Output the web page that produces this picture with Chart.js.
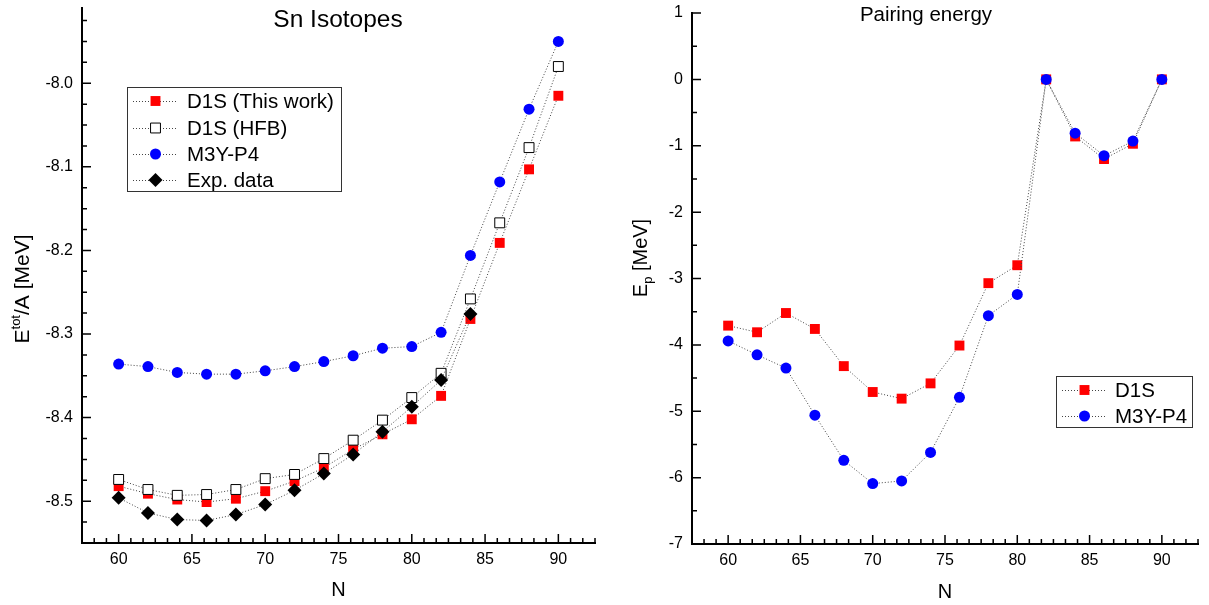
<!DOCTYPE html>
<html lang="en">
<head>
<meta charset="UTF-8">
<title>Sn isotopes</title>
<style>
  html, body { margin:0; padding:0; background:#fff; }
  #wrap { position:relative; width:1209px; height:605px; }
  #c1 { position:absolute; left:0; top:0; }
  #c2 { position:absolute; left:605px; top:0; }
</style>
</head>
<body>
<div id="wrap">
  <canvas id="c1" width="605" height="605"></canvas>
  <canvas id="c2" width="604" height="605"></canvas>
</div>
<script src="https://cdn.jsdelivr.net/npm/chart.js@4.4.0/dist/chart.umd.min.js"></script>
<script>
// neutron numbers
var N = [60, 62, 64, 66, 68, 70, 72, 74, 76, 78, 80, 82, 84, 86, 88, 90];
var N_exp = [60, 62, 64, 66, 68, 70, 72, 74, 76, 78, 80, 82, 84];

// E_tot/A [MeV]
var e_d1s = [-8.482, -8.491, -8.498, -8.501, -8.497, -8.488, -8.476, -8.460, -8.438, -8.420, -8.402, -8.374, -8.282, -8.191, -8.103, -8.015];
var e_hfb = [-8.474, -8.486, -8.493, -8.492, -8.486, -8.473, -8.468, -8.449, -8.427, -8.403, -8.376, -8.347, -8.258, -8.167, -8.077, -7.980];
var e_m3y = [-8.336, -8.339, -8.346, -8.348, -8.348, -8.344, -8.339, -8.333, -8.326, -8.317, -8.315, -8.298, -8.206, -8.118, -8.031, -7.950];
var e_exp = [-8.496, -8.514, -8.522, -8.523, -8.516, -8.504, -8.487, -8.467, -8.444, -8.417, -8.387, -8.355, -8.276];

// pairing energy [MeV]
var p_d1s = [-3.71, -3.81, -3.52, -3.76, -4.32, -4.71, -4.81, -4.58, -4.01, -3.07, -2.80, 0, -0.86, -1.20, -0.97, 0];
var p_m3y = [-3.94, -4.15, -4.35, -5.06, -5.74, -6.09, -6.05, -5.62, -4.79, -3.56, -3.24, 0, -0.81, -1.15, -0.93, 0];

// tick labels
var xTicks = [60, 65, 70, 75, 80, 85, 90];
var yTicksL = [-8.5, -8.4, -8.3, -8.2, -8.1, -8.0];
var yTicksR = [-7, -6, -5, -4, -3, -2, -1, 0, 1];

var FONT = '"Liberation Sans", Arial, sans-serif';

function f_pts(xs, ys){
    var out = [];
    for(var i=0; i<ys.length; i++) out.push({x: xs[i], y: ys[i]});
    return out;
}

function f_set(label, xs, ys, style, fill, stroke, r, order){
    return {
        label: label,
        data: f_pts(xs, ys),
        showLine: true,
        borderColor: '#444',
        borderWidth: 1,
        borderDash: [1, 2],
        pointStyle: style,
        pointRadius: r,
        pointHoverRadius: r,
        pointBackgroundColor: fill,
        pointBorderColor: stroke,
        pointBorderWidth: stroke === fill ? 0 : 1,
        order: order
    };
}

// minor tick positions
function f_steps(min, max, base, step){
    var out = [];
    var k = Math.ceil((min - base) / step - 1e-9);
    for(var v = base + k*step; v <= max + 1e-9; k++, v = base + k*step) out.push(v);
    return out;
}

function f_marker(ctx, ds, x, y){
    ctx.save();
    ctx.fillStyle = ds.pointBackgroundColor;
    ctx.strokeStyle = ds.pointBorderColor;
    ctx.lineWidth = ds.pointBorderWidth || 0;
    ctx.setLineDash([]);
    Chart.helpers.drawPoint(ctx, {pointStyle: ds.pointStyle, radius: ds.pointRadius, rotation: 0, borderWidth: ds.pointBorderWidth}, x, y);
    ctx.restore();
}

// rotated axis title with super/subscript parts
function f_vtitle(ctx, cx, cy, parts){
    ctx.save();
    ctx.translate(cx, cy);
    ctx.rotate(-Math.PI/2);
    ctx.fillStyle = '#000';
    ctx.textBaseline = 'alphabetic';
    ctx.textAlign = 'left';
    var w = 0;
    parts.forEach(function(p){ ctx.font = p.size + 'px ' + FONT; w += ctx.measureText(p.t).width; });
    var x = -w/2;
    var base = parts[0].size * 0.36;
    parts.forEach(function(p){
        ctx.font = p.size + 'px ' + FONT;
        ctx.fillText(p.t, x, base + (p.dy || 0));
        x += ctx.measureText(p.t).width;
    });
    ctx.restore();
}

var decor = {
    id: 'decor',
    afterDraw: function(chart, args, o){
        var ctx = chart.ctx, xs = chart.scales.x, ys = chart.scales.y, a = chart.chartArea;
        ctx.save();
        ctx.strokeStyle = '#000';
        ctx.lineWidth = 1.5;
        ctx.beginPath();
        o.xMinor.forEach(function(v){
            var px = xs.getPixelForValue(v);
            var major = Math.abs(v/5 - Math.round(v/5)) < 1e-6;
            ctx.moveTo(px, a.bottom); ctx.lineTo(px, a.bottom - (major ? 9 : 5));
        });
        o.yMinor.forEach(function(v){
            var py = ys.getPixelForValue(v);
            var major = Math.abs(v/o.yMajor - Math.round(v/o.yMajor)) < 1e-6;
            ctx.moveTo(a.left, py); ctx.lineTo(a.left + (major ? 9 : 5), py);
        });
        ctx.stroke();

        // titles
        ctx.fillStyle = '#000';
        ctx.textAlign = 'center';
        ctx.textBaseline = 'middle';
        ctx.font = o.title.size + 'px ' + FONT;
        ctx.fillText(o.title.text, o.title.x, o.title.y);
        ctx.font = '20px ' + FONT;
        ctx.fillText('N', (a.left + a.right)/2, o.xTitleY);
        f_vtitle(ctx, o.yTitle.x, o.yTitle.y, o.yTitle.parts);

        // legend
        var L = o.legend;
        ctx.lineWidth = 1;
        ctx.strokeStyle = '#333';
        ctx.strokeRect(L.x + 0.5, L.y + 0.5, L.w, L.h);
        chart.data.datasets.forEach(function(ds, i){
            var ry = L.rows[i];
            ctx.save();
            ctx.strokeStyle = '#444';
            ctx.setLineDash([1, 2]);
            ctx.beginPath();
            ctx.moveTo(L.x0, ry + 0.5); ctx.lineTo(L.x1, ry + 0.5);
            ctx.stroke();
            ctx.restore();
            f_marker(ctx, ds, (L.x0 + L.x1)/2, ry);
            ctx.fillStyle = '#000';
            ctx.textAlign = 'left';
            ctx.textBaseline = 'middle';
            ctx.font = '20.5px ' + FONT;
            ctx.fillText(ds.label, L.tx, ry + 1);
        });
        ctx.restore();
    }
};

function f_scales(xr, yr, yt, ywidth, xheight, ylabel){
    return {
        x: {
            type: 'linear', min: xr[0], max: xr[1],
            afterBuildTicks: function(s){ s.ticks = xTicks.map(function(v){ return {value: v}; }); },
            afterFit: function(s){ s.height = xheight; s.paddingLeft = 0; s.paddingRight = 0; },
            ticks: {font: {family: FONT, size: 16}, color: '#000', padding: 7, maxRotation: 0, autoSkip: false},
            grid: {display: false, drawTicks: false},
            border: {color: '#000', width: 2}
        },
        y: {
            type: 'linear', min: yr[0], max: yr[1],
            afterBuildTicks: function(s){ s.ticks = yt.map(function(v){ return {value: v}; }); },
            afterFit: function(s){ s.width = ywidth; s.paddingTop = 0; s.paddingBottom = 0; },
            ticks: {font: {family: FONT, size: 16}, color: '#000', padding: 9, callback: ylabel},
            grid: {display: false, drawTicks: false},
            border: {color: '#000', width: 2}
        }
    };
}

var chart1 = new Chart(document.getElementById('c1'), {
    type: 'scatter',
    data: {
        datasets: [
            f_set('D1S (This work)', N, e_d1s, 'rect', '#ff0000', '#ff0000', 7, 4),
            f_set('D1S (HFB)', N, e_hfb, 'rect', '#ffffff', '#000000', 7, 3),
            f_set('M3Y-P4', N, e_m3y, 'circle', '#0000ff', '#0000ff', 5.5, 2),
            f_set('Exp. data', N_exp, e_exp, 'rectRot', '#000000', '#000000', 7, 1)
        ]
    },
    options: {
        responsive: false,
        animation: false,
        layout: {padding: {left: 0, right: 10, top: 4, bottom: 0}},
        scales: f_scales([57.5, 92.5], [-8.55, -7.91], yTicksL, 82, 62, function(v){ return v.toFixed(1); }),
        plugins: {
            legend: {display: false},
            tooltip: {enabled: false},
            decor: {
                xMinor: f_steps(57.5, 92.5, 60, 5/6),
                yMinor: f_steps(-8.55, -7.91, -8.0, 0.025),
                yMajor: 0.1,
                title: {text: 'Sn Isotopes', size: 24.5, x: 338, y: 20},
                xTitleY: 590,
                yTitle: {x: 21, y: 289, parts: [{t: 'E', size: 21}, {t: 'tot', size: 13, dy: -9}, {t: '/A [MeV]', size: 21}]},
                legend: {x: 127, y: 87, w: 214, h: 104, rows: [101, 128, 154, 180], x0: 133, x1: 178, tx: 187}
            }
        }
    },
    plugins: [decor]
});

var chart2 = new Chart(document.getElementById('c2'), {
    type: 'scatter',
    data: {
        datasets: [
            f_set('D1S', N, p_d1s, 'rect', '#ff0000', '#ff0000', 7, 2),
            f_set('M3Y-P4', N, p_m3y, 'circle', '#0000ff', '#0000ff', 5.5, 1)
        ]
    },
    options: {
        responsive: false,
        animation: false,
        layout: {padding: {left: 0, right: 11, top: 13, bottom: 0}},
        scales: f_scales([57.5, 92.5], [-7, 1], yTicksR, 87, 61, function(v){ return String(v); }),
        plugins: {
            legend: {display: false},
            tooltip: {enabled: false},
            decor: {
                xMinor: f_steps(57.5, 92.5, 60, 5/6),
                yMinor: f_steps(-7, 1, 0, 0.5),
                yMajor: 1,
                title: {text: 'Pairing energy', size: 20.5, x: 321, y: 15},
                xTitleY: 592,
                yTitle: {x: 35, y: 258, parts: [{t: 'E', size: 20}, {t: 'p', size: 13, dy: 5}, {t: ' [MeV]', size: 20}]},
                legend: {x: 451, y: 376, w: 136, h: 51, rows: [390, 416], x0: 457, x1: 502, tx: 510}
            }
        }
    },
    plugins: [decor]
});
</script>
</body>
</html>
